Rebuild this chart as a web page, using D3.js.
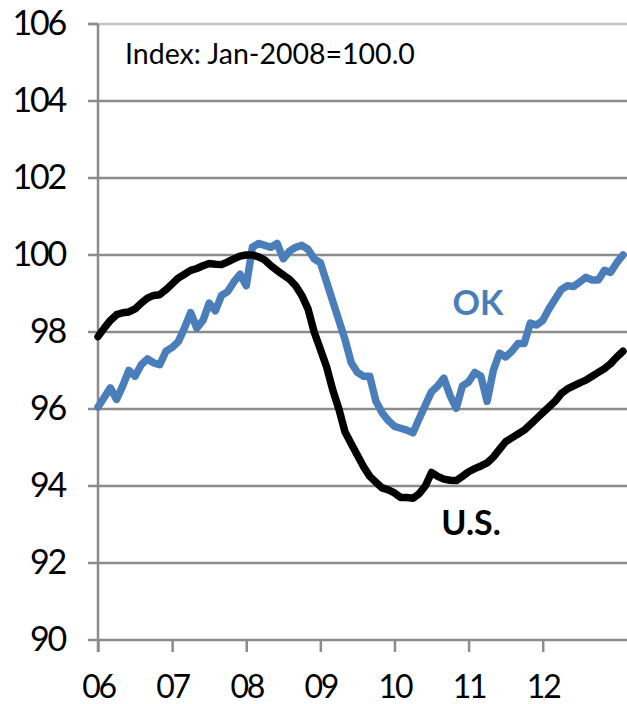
<!DOCTYPE html>
<html>
<head>
<meta charset="utf-8">
<script src="https://cdn.jsdelivr.net/npm/d3@7"></script>
<style>
  html, body { margin: 0; padding: 0; background: #fff; }
  svg { display: block; }
  text { font-family: Lato, "Open Sans", "Liberation Sans", sans-serif; }
</style>
</head>
<body>
<svg id="chart" width="627" height="704"></svg>
<script>
// Monthly index values, Jan 2006 .. Feb 2013 (Jan-2008 = 100.0)
const usValues = [
  97.88, 98.1, 98.3, 98.45, 98.5, 98.52, 98.6, 98.75, 98.88, 98.95, 98.97, 99.1,
  99.25, 99.4, 99.5, 99.6, 99.65, 99.72, 99.78, 99.76, 99.75, 99.82, 99.9, 99.97,
  100.0, 100.0, 99.95, 99.87, 99.72, 99.6, 99.48, 99.37, 99.2, 98.95, 98.6, 98.0,
  97.55, 97.1, 96.5, 96.0, 95.4, 95.1, 94.8, 94.5, 94.25, 94.1, 93.95, 93.9,
  93.82, 93.7, 93.7, 93.68, 93.8, 94.0, 94.35, 94.25, 94.18, 94.15, 94.14, 94.25,
  94.37, 94.45, 94.52, 94.6, 94.75, 94.95, 95.15, 95.25, 95.35, 95.45, 95.6, 95.75,
  95.9, 96.05, 96.2, 96.4, 96.52, 96.6, 96.68, 96.75, 96.85, 96.95, 97.05, 97.18,
  97.35, 97.5
];
const okValues = [
  96.05, 96.3, 96.55, 96.25, 96.6, 97.0, 96.85, 97.15, 97.3, 97.2, 97.15, 97.5,
  97.6, 97.75, 98.1, 98.5, 98.1, 98.3, 98.75, 98.55, 98.95, 99.05, 99.3, 99.5,
  99.2, 100.2, 100.3, 100.25, 100.2, 100.3, 99.9, 100.1, 100.2, 100.25, 100.15, 99.9,
  99.8, 99.3, 98.8, 98.3, 97.8, 97.2, 96.95, 96.85, 96.85, 96.2, 95.9, 95.7,
  95.55, 95.5, 95.45, 95.38, 95.75, 96.1, 96.45, 96.6, 96.8, 96.35, 96.02, 96.6,
  96.7, 96.95, 96.85, 96.2, 97.0, 97.45, 97.35, 97.5, 97.7, 97.7, 98.23, 98.18,
  98.3, 98.6, 98.85, 99.1, 99.2, 99.18, 99.3, 99.42, 99.35, 99.35, 99.6, 99.55,
  99.8, 100.0
];
const yearLabels = ["06", "07", "08", "09", "10", "11", "12"];
const yTicks = [90, 92, 94, 96, 98, 100, 102, 104, 106];
const seriesNames = ["OK", "U.S."];
const noteText = "Index: Jan-2008=100.0";

const svg = d3.select("#chart");
const mLeft = 98, mRight = 623, mTop = 24, mBottom = 640;

const x = d3.scaleLinear().domain([0, usValues.length - 1]).range([mLeft, mRight]);
const y = d3.scaleLinear().domain([90, 106]).range([mBottom, mTop]);

const gridColor = "#8c8c8c";

// horizontal gridlines
svg.append("g").selectAll("line").data(yTicks).join("line")
  .attr("x1", mLeft - 10).attr("x2", mRight + 4)
  .attr("y1", d => y(d)).attr("y2", d => y(d))
  .attr("stroke", d => d === 106 ? "#c4c4c4" : gridColor)
  .attr("stroke-width", 2.5);

svg.append("line").attr("x1", mLeft - 10).attr("x2", mLeft).attr("y1", y(106)).attr("y2", y(106))
  .attr("stroke", gridColor).attr("stroke-width", 2.5);

// y axis labels
const yAxis = d3.axisLeft(y).tickValues(yTicks).tickSize(0).tickPadding(0).tickFormat(d3.format("d"));
const yg = svg.append("g").attr("transform", `translate(65,-1)`).call(yAxis);
yg.select(".domain").remove();
yg.selectAll("text").attr("font-size", 34).attr("fill", "#000")
  .attr("letter-spacing", "-2.2px")
  .attr("font-family", "Lato, 'Open Sans', sans-serif").attr("dy", "0.35em");

// y axis line
svg.append("line").attr("x1", mLeft).attr("x2", mLeft).attr("y1", mTop).attr("y2", mBottom + 12)
  .attr("stroke", gridColor).attr("stroke-width", 2.5);

// x axis
const xTickVals = yearLabels.map((d, i) => i * 12);
const xAxis = d3.axisBottom(x).tickValues(xTickVals).tickSize(12).tickPadding(23)
  .tickFormat((d, i) => yearLabels[i]);
const xg = svg.append("g").attr("transform", `translate(0,${mBottom})`).call(xAxis);
xg.select(".domain").remove();
xg.selectAll(".tick line").attr("stroke", gridColor).attr("stroke-width", 2.5);
xg.selectAll("text").attr("font-size", 32).attr("fill", "#000")
  .attr("letter-spacing", "-2.2px")
  .attr("font-family", "Lato, 'Open Sans', sans-serif");

// lines
const line = d3.line().x((d, i) => x(i)).y(d => y(d)).curve(d3.curveLinear);
svg.append("path").datum(okValues).attr("d", line)
  .attr("fill", "none").attr("stroke", "#4a7ebb").attr("stroke-width", 7.5)
  .attr("stroke-linejoin", "round").attr("stroke-linecap", "round");
svg.append("path").datum(usValues).attr("d", line)
  .attr("fill", "none").attr("stroke", "#000").attr("stroke-width", 7.5)
  .attr("stroke-linejoin", "round").attr("stroke-linecap", "round");

// note
svg.append("text").attr("x", 125).attr("y", 64).text(noteText)
  .attr("font-size", 28.5).attr("fill", "#000");

// series labels
svg.append("text").attr("x", 478).attr("y", 315).attr("text-anchor", "middle")
  .text(seriesNames[0]).attr("font-size", 34).attr("font-weight", "bold").attr("fill", "#4a7ebb");
svg.append("text").attr("x", 471).attr("y", 535).attr("text-anchor", "middle")
  .text(seriesNames[1]).attr("font-size", 34).attr("font-weight", "bold").attr("fill", "#000");
</script>
</body>
</html>
